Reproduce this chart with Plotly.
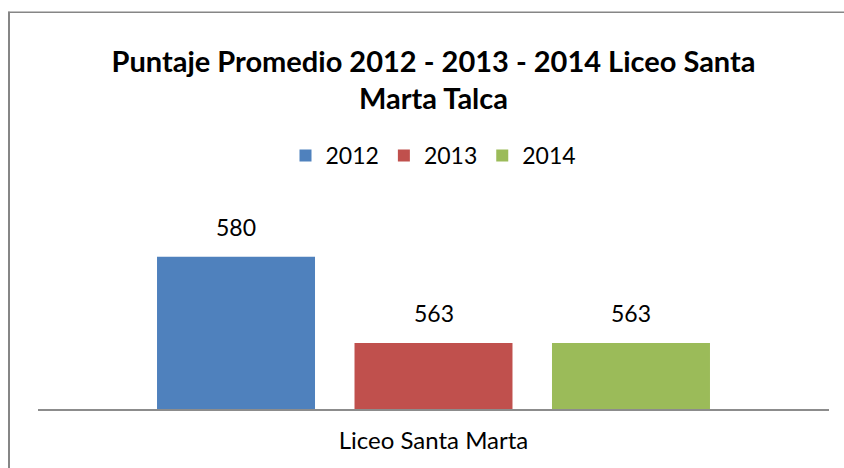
import plotly.graph_objects as go

categories = ["Liceo Santa Marta"]
years = ["2012", "2013", "2014"]
values = [[580], [563], [563]]
colors = ["#4F81BD", "#C0504D", "#9BBB59"]

FONT = "Lato"
W, H = 844, 468

# plot area in page pixels
PX0, PX1, PY0, PY1 = 38, 829, 205.5, 408.7
ml, mr = PX0, W - PX1
mt, mb = PY0, H - PY1
pw, ph = W - ml - mr, H - mt - mb

def px_x(p):
    return (p - ml) / pw

def px_y(p):
    return (H - mb - p) / ph

bargap, bargroupgap = 0.251, 0.2
slot = (1 - bargap) / len(years)

fig = go.Figure()
annotations = []
for i, (yr, vals, col) in enumerate(zip(years, values, colors)):
    fig.add_trace(go.Bar(
        x=categories, y=vals, name=yr,
        marker=dict(color=col, line=dict(width=0)),
        hoverinfo="skip",
    ))
    for j, v in enumerate(vals):
        annotations.append(dict(
            x=j + (i - (len(years) - 1) / 2) * slot, y=v, xref="x", yref="y",
            text=str(v), showarrow=False, yanchor="bottom", yshift=14,
            font=dict(family=FONT, size=23, color="#000000"),
        ))

fig.update_layout(
    width=W, height=H,
    margin=dict(l=ml, r=mr, t=mt, b=mb, pad=0),
    paper_bgcolor="white", plot_bgcolor="white",
    barmode="group", bargap=bargap, bargroupgap=bargroupgap,
    hovermode=False,
    title=dict(
        text="<b>Puntaje Promedio 2012 - 2013 - 2014 Liceo Santa<br>Marta Talca</b>",
        x=0.5, xanchor="center", xref="paper",
        y=1 - 71.5 / H, yanchor="middle",
        font=dict(family=FONT, size=29, color="#000000"),
    ),
    legend=dict(
        orientation="h", x=0.5, xanchor="center", y=px_y(155), yanchor="middle",
        font=dict(family=FONT, size=23, color="#000000"),
        itemwidth=30, tracegroupgap=0, bgcolor="rgba(0,0,0,0)",
    ),
    xaxis=dict(
        showline=True, linecolor="#8C8C8C", linewidth=2,
        ticks="", showgrid=False, ticklabelstandoff=9,
        tickfont=dict(family=FONT, size=24, color="#000000"),
    ),
    yaxis=dict(range=[550, 590], visible=False, showgrid=False, zeroline=False),
    annotations=annotations,
    shapes=[
        dict(type="line", xref="paper", yref="paper",
             x0=px_x(9), x1=px_x(9), y0=px_y(11), y1=px_y(H + 40),
             line=dict(color="#868686", width=2)),
        dict(type="line", xref="paper", yref="paper",
             x0=px_x(8), x1=px_x(W + 40), y0=px_y(11.5), y1=px_y(11.5),
             line=dict(color="#868686", width=1.5)),
    ],
)

fig.write_html(
    "out.html",
    config={"displayModeBar": False},
    post_script=(
        "document.body.style.margin='0';"
        "document.body.style.overflow='hidden';"
        "document.documentElement.style.overflow='hidden';"
    ),
)
